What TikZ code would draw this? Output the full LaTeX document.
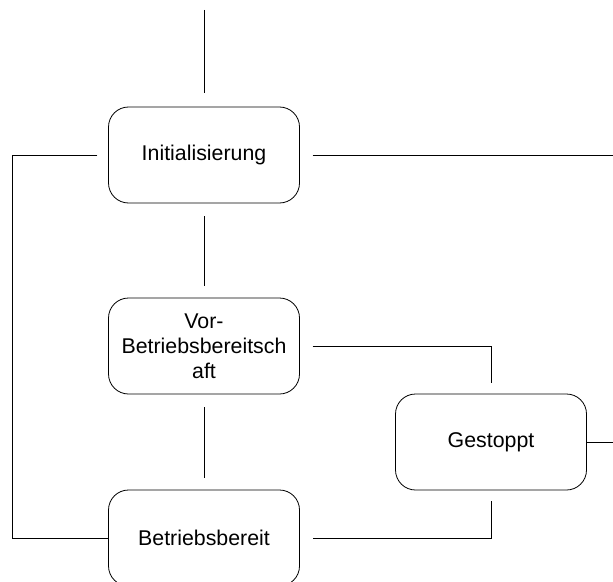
\documentclass[tikz,border=0pt]{standalone}
\usepackage{fontspec}
\setmainfont{Liberation Sans}
\usepackage{tikz}

\begin{document}
\begin{tikzpicture}[x=0.75pt, y=-0.75pt, %
      st/.style={draw, line width=0.6pt, rounded corners=15pt, minimum width=143.25pt, minimum height=72pt, align=center, font=\fontsize{16}{18.75}\selectfont}, %
      ln/.style={line width=0.6pt}, %
      ]
    \useasboundingbox (0,0) rectangle (613,581);

    \foreach \a/\txt/\x/\y in { %
      init/Initialisierung/204/155,%
      vor/{Vor-\\Betriebsbereitsch\\aft}/204/346,%
      gest/Gestoppt/491/442,%
      betr/Betriebsbereit/204/538%
    }{ %
      \node[st] (\a) at (\x,\y) {\txt};
      }

    \coordinate (top) at (204,10);
    \coordinate (loopL) at (12,155);
    \coordinate (outA) at (613,155);
    \coordinate (outB) at (613,442);

    \foreach \from/\to in { %
      init/vor, vor/betr%
    }{ \draw[ln, shorten <=9.5pt, shorten >=9pt] (\from) -- (\to);
    }

    \draw[ln, shorten >=10.5pt] (top) -- (init);
    \draw[ln, shorten <=8pt] (init.west) -- (loopL) |- (betr.west);
    \draw[ln, shorten <=9.5pt] (init.east) -- (outA);
    \draw[ln, shorten <=9.5pt, shorten >=8pt] (vor.east) -| (gest.north);
    \draw[ln, shorten <=8pt, shorten >=9.5pt] (gest.south) |- (betr.east);
    \draw[ln] (gest.east) -- (outB);
    \end{tikzpicture}
\end{document}
